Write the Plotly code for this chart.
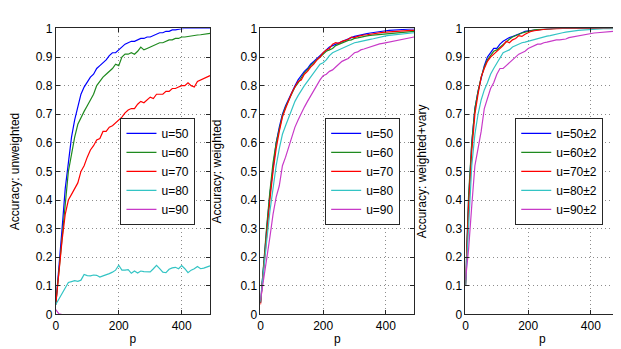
import plotly.graph_objects as go
from plotly.subplots import make_subplots

# p sampled every 10
P = [0, 10, 20, 30, 40, 50, 60, 70, 80, 90,
     100, 110, 120, 130, 140, 150, 160, 170, 180, 190,
     200, 210, 220, 230, 240, 250, 260, 270, 280, 290,
     300, 310, 320, 330, 340, 350, 360, 370, 380, 390,
     400, 410, 420, 430, 440, 450, 460, 470, 480, 490]

# --- panel 1: unweighted
UNW_50 = [0.035, 0.16, 0.30, 0.44, 0.54, 0.62, 0.68, 0.73, 0.77, 0.795,
          0.815, 0.83, 0.84, 0.86, 0.87, 0.88, 0.89, 0.905, 0.915, 0.915,
          0.925, 0.935, 0.945, 0.95, 0.955, 0.955, 0.96, 0.965, 0.965, 0.97,
          0.97, 0.975, 0.98, 0.985, 0.985, 0.99, 0.99, 0.995, 0.995, 0.998,
          0.999, 1, 1, 1, 1, 1, 1, 1, 1, 1]
UNW_60 = [0.035, 0.15, 0.28, 0.40, 0.50, 0.56, 0.62, 0.665, 0.69, 0.71,
          0.73, 0.75, 0.77, 0.80, 0.815, 0.83, 0.84, 0.85, 0.86, 0.875,
          0.87, 0.90, 0.91, 0.91, 0.915, 0.91, 0.92, 0.935, 0.925, 0.93,
          0.935, 0.94, 0.945, 0.95, 0.95, 0.955, 0.96, 0.96, 0.965, 0.965,
          0.97, 0.97, 0.972, 0.975, 0.975, 0.977, 0.978, 0.98, 0.982, 0.983]
UNW_70 = [0.035, 0.15, 0.26, 0.35, 0.40, 0.42, 0.44, 0.46, 0.50, 0.52,
          0.55, 0.575, 0.59, 0.61, 0.615, 0.64, 0.64, 0.655, 0.66, 0.67,
          0.68, 0.69, 0.705, 0.715, 0.72, 0.72, 0.735, 0.745, 0.74, 0.75,
          0.76, 0.755, 0.77, 0.77, 0.77, 0.78, 0.78, 0.79, 0.79, 0.795,
          0.80, 0.80, 0.81, 0.80, 0.795, 0.815, 0.82, 0.825, 0.83, 0.835]
UNW_80 = [0.035, 0.055, 0.075, 0.09, 0.112, 0.115, 0.118, 0.116, 0.12, 0.14,
          0.136, 0.135, 0.138, 0.137, 0.131, 0.135, 0.138, 0.143, 0.148, 0.155,
          0.172, 0.155, 0.155, 0.157, 0.144, 0.152, 0.145, 0.152, 0.15, 0.15,
          0.149, 0.16, 0.172, 0.16, 0.148, 0.146, 0.158, 0.163, 0.165, 0.16,
          0.171, 0.16, 0.146, 0.155, 0.16, 0.168, 0.16, 0.162, 0.165, 0.17]
UNW_90 = [0.017, 0.002, 0, 0, 0, 0, 0, 0, 0, 0,
          0, 0, 0, 0, 0, 0, 0, 0, 0, 0,
          0, 0, 0, 0, 0, 0, 0, 0, 0, 0,
          0, 0, 0, 0, 0, 0, 0, 0, 0, 0,
          0, 0, 0, 0, 0, 0, 0, 0, 0, 0]

# --- panel 2: weighted
W_50 = [0.04, 0.18, 0.30, 0.42, 0.52, 0.60, 0.655, 0.70, 0.73, 0.755,
        0.78, 0.80, 0.82, 0.835, 0.85, 0.86, 0.875, 0.885, 0.895, 0.905,
        0.915, 0.925, 0.935, 0.94, 0.945, 0.95, 0.955, 0.96, 0.965, 0.968,
        0.972, 0.975, 0.977, 0.98, 0.982, 0.984, 0.986, 0.988, 0.99, 0.99,
        0.992, 0.993, 0.994, 0.995, 0.996, 0.997, 0.997, 0.998, 0.998, 0.998]
W_60 = [0.04, 0.19, 0.31, 0.43, 0.53, 0.60, 0.65, 0.695, 0.725, 0.75,
        0.775, 0.795, 0.81, 0.83, 0.845, 0.855, 0.87, 0.88, 0.89, 0.90,
        0.91, 0.92, 0.925, 0.93, 0.94, 0.945, 0.95, 0.955, 0.958, 0.96,
        0.965, 0.967, 0.97, 0.972, 0.974, 0.976, 0.977, 0.979, 0.98, 0.981,
        0.983, 0.984, 0.985, 0.986, 0.987, 0.988, 0.988, 0.989, 0.99, 0.99]
W_70 = [0.035, 0.16, 0.28, 0.40, 0.50, 0.58, 0.64, 0.69, 0.72, 0.75,
        0.775, 0.795, 0.815, 0.82, 0.84, 0.85, 0.865, 0.875, 0.89, 0.90,
        0.915, 0.925, 0.93, 0.945, 0.95, 0.948, 0.955, 0.958, 0.962, 0.97,
        0.968, 0.972, 0.975, 0.977, 0.978, 0.98, 0.982, 0.983, 0.985, 0.986,
        0.987, 0.988, 0.989, 0.99, 0.99, 0.991, 0.992, 0.992, 0.993, 0.993]
W_80 = [0.045, 0.16, 0.26, 0.36, 0.45, 0.52, 0.58, 0.63, 0.66, 0.69,
        0.72, 0.745, 0.765, 0.785, 0.80, 0.815, 0.83, 0.845, 0.86, 0.875,
        0.88, 0.89, 0.905, 0.915, 0.92, 0.925, 0.93, 0.935, 0.94, 0.945,
        0.95, 0.952, 0.955, 0.958, 0.96, 0.962, 0.964, 0.967, 0.97, 0.972,
        0.974, 0.976, 0.977, 0.978, 0.98, 0.981, 0.982, 0.983, 0.984, 0.985]
W_90 = [0.05, 0.12, 0.20, 0.27, 0.35, 0.41, 0.45, 0.52, 0.55, 0.585,
        0.62, 0.655, 0.68, 0.705, 0.725, 0.745, 0.765, 0.78, 0.80, 0.82,
        0.835, 0.84, 0.85, 0.855, 0.865, 0.875, 0.885, 0.89, 0.895, 0.905,
        0.915, 0.918, 0.925, 0.928, 0.932, 0.935, 0.94, 0.944, 0.946, 0.948,
        0.95, 0.952, 0.955, 0.957, 0.96, 0.962, 0.964, 0.966, 0.968, 0.97]

# --- panel 3: weighted + vary
V_50 = [0.10, 0.40, 0.60, 0.72, 0.78, 0.83, 0.87, 0.90, 0.915, 0.93,
        0.93, 0.945, 0.955, 0.963, 0.968, 0.972, 0.975, 0.98, 0.985, 0.99,
        0.992, 0.993, 0.995, 0.997, 0.998, 0.999, 1, 1, 1, 1,
        1, 1, 1, 1, 1, 1, 1, 1, 1, 1,
        1, 1, 1, 1, 1, 1, 1, 1, 1, 1]
V_60 = [0.10, 0.42, 0.60, 0.72, 0.78, 0.83, 0.865, 0.89, 0.905, 0.92,
        0.925, 0.935, 0.945, 0.955, 0.962, 0.97, 0.975, 0.98, 0.984, 0.987,
        0.99, 0.993, 0.995, 0.996, 0.997, 0.998, 0.999, 1, 1, 1,
        1, 1, 1, 1, 1, 1, 1, 1, 1, 1,
        1, 1, 1, 1, 1, 1, 1, 1, 1, 1]
V_70 = [0.10, 0.38, 0.57, 0.70, 0.77, 0.83, 0.86, 0.885, 0.90, 0.91,
        0.92, 0.93, 0.94, 0.955, 0.95, 0.96, 0.965, 0.975, 0.972, 0.98,
        0.985, 0.99, 0.992, 0.994, 0.996, 0.997, 0.998, 0.998, 0.999, 0.999,
        1, 1, 1, 1, 1, 1, 1, 1, 1, 1,
        1, 1, 1, 1, 1, 1, 1, 1, 1, 1]
V_80 = [0.10, 0.32, 0.52, 0.63, 0.70, 0.75, 0.785, 0.81, 0.84, 0.86,
        0.88, 0.90, 0.915, 0.92, 0.925, 0.935, 0.94, 0.945, 0.95, 0.952,
        0.955, 0.96, 0.962, 0.965, 0.968, 0.97, 0.973, 0.975, 0.978, 0.98,
        0.983, 0.985, 0.987, 0.989, 0.99, 0.992, 0.993, 0.994, 0.995, 0.996,
        0.997, 0.997, 0.998, 0.998, 0.999, 0.999, 0.999, 1, 1, 1]
V_90 = [0.12, 0.23, 0.38, 0.52, 0.58, 0.64, 0.72, 0.76, 0.79, 0.81,
        0.84, 0.86, 0.86, 0.87, 0.88, 0.89, 0.90, 0.91, 0.915, 0.92,
        0.93, 0.935, 0.94, 0.945, 0.945, 0.95, 0.952, 0.955, 0.957, 0.96,
        0.96, 0.962, 0.963, 0.968, 0.97, 0.972, 0.975, 0.977, 0.98, 0.982,
        0.983, 0.984, 0.985, 0.986, 0.987, 0.988, 0.989, 0.99, 0.991, 0.992]

LABELS = ["u=50", "u=60", "u=70", "u=80", "u=90"]
LABELS_VARY = ["u=50±2", "u=60±2", "u=70±2", "u=80±2", "u=90±2"]
Y_TITLES = ["Accuracy: unweighted", "Accuracy: weighted", "Accuracy: weighted+vary"]
X_TICKS = [0, 200, 400]
Y_TICKS = [0, 0.1, 0.2, 0.3, 0.4, 0.5, 0.6, 0.7, 0.8, 0.9, 1]
Y_TICKTEXT = ["0", "0.1", "0.2", "0.3", "0.4", "0.5", "0.6", "0.7", "0.8", "0.9", "1"]

COLOURS = ["#0000ff", "#1f8a1f", "#ff0000", "#33c4c4", "#c83ac8"]
FONT = "Liberation Sans, Arial, Helvetica, sans-serif"

panels = [
    ([UNW_50, UNW_60, UNW_70, UNW_80, UNW_90], LABELS),
    ([W_50, W_60, W_70, W_80, W_90], LABELS),
    ([V_50, V_60, V_70, V_80, V_90], LABELS_VARY),
]

fig = make_subplots(rows=1, cols=3)

legend_names = ["legend", "legend2", "legend3"]
for col, (series, names) in enumerate(panels, start=1):
    for ys, name, colour in zip(series, names, COLOURS):
        fig.add_trace(go.Scatter(x=P, y=ys, mode="lines", name=name,
                                 line=dict(color=colour, width=1.2),
                                 legend=legend_names[col - 1]),
                      row=1, col=col)

x_domains = [[45 / 621, 200 / 621], [250.7 / 621, 405 / 621], [456.7 / 621, 611 / 621]]
y_domain = [37 / 349, 335 / 349]
legend_x = [110 / 621, 315.7 / 621, 506.7 / 621]

axis_common = dict(showline=True, linecolor="#262626", linewidth=1, mirror="ticks",
                   ticks="inside", ticklen=4, tickcolor="#262626",
                   showgrid=True, gridcolor="#8c8c8c", griddash="1px,3px", gridwidth=1,
                   zeroline=False, tickfont=dict(size=12, color="black", family=FONT))

for i in range(3):
    fig.update_xaxes(row=1, col=i + 1, domain=x_domains[i], range=[0, 490],
                     tickvals=X_TICKS, title=dict(text="p", standoff=2,
                                                  font=dict(size=12, color="black", family=FONT)),
                     **axis_common)
    fig.update_yaxes(row=1, col=i + 1, domain=y_domain, range=[0, 1],
                     tickvals=Y_TICKS, ticktext=Y_TICKTEXT,
                     title=dict(text=Y_TITLES[i], standoff=16,
                                font=dict(size=12, color="black", family=FONT)),
                     **axis_common)

legend_style = dict(bgcolor="white", bordercolor="#262626", borderwidth=1,
                    font=dict(size=12, color="black", family=FONT),
                    xanchor="left", yanchor="middle", y=1 - 163 / 349,
                    tracegroupgap=0, itemwidth=30)
fig.update_layout(
    legend=dict(x=legend_x[0], **legend_style),
    legend2=dict(x=legend_x[1], **legend_style),
    legend3=dict(x=legend_x[2], **legend_style),
    width=621, height=349,
    margin=dict(l=0, r=0, t=0, b=0),
    paper_bgcolor="white", plot_bgcolor="white",
    font=dict(family=FONT, size=12, color="black"),
)

fig.write_html("out.html")
